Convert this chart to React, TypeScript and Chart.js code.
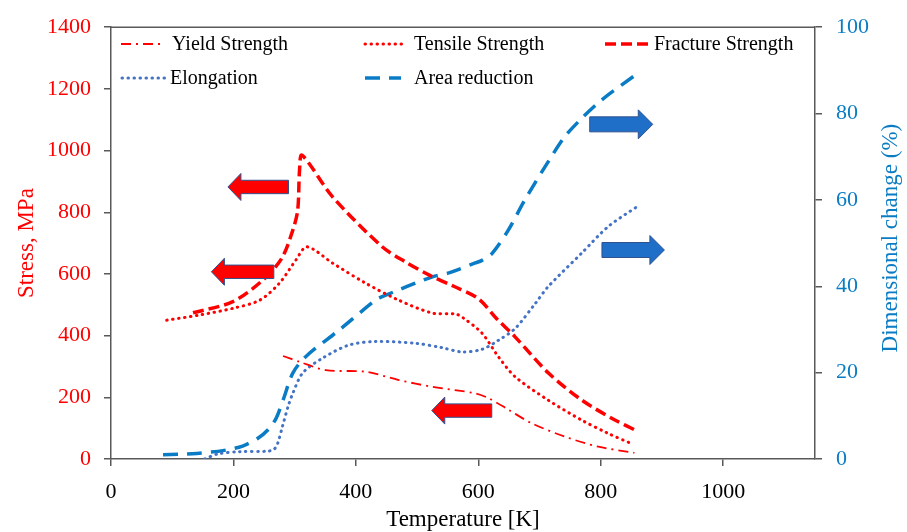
import React, { useEffect, useRef } from 'react';
import { Chart, registerables } from 'chart.js';

Chart.register(...registerables);

// ---- Data ----
const xTickValues = [0, 200, 400, 600, 800, 1000];

const yieldT = [281, 308, 351, 416, 470, 525, 595, 617, 650, 687, 742, 796, 855];
const yieldMPa = [334, 315, 288, 283, 256, 234, 213, 197, 159, 116, 72, 40, 20];

const tensileT = [91, 145, 200, 243, 275, 302, 320, 362, 416, 470, 525, 563, 575, 606, 633, 660, 714, 769, 810, 850];
const tensileMPa = [450, 467, 489, 515, 570, 645, 688, 635, 570, 515, 473, 470, 458, 408, 331, 267, 191, 126, 85, 50];

const fractureT = [134, 199, 248, 279, 297, 305, 308, 312, 362, 443, 480, 520, 560, 600, 630, 660, 715, 769, 820, 858];
const fractureMPa = [474, 510, 580, 651, 742, 807, 937, 985, 850, 688, 640, 596, 560, 520, 455, 396, 278, 191, 130, 92];

const elongT = [153, 175, 210, 255, 266, 272, 280, 290, 297, 313, 346, 389, 432, 497, 540, 573, 606, 633, 660, 693, 714, 769, 812, 861];
const elongPct = [0, 1.2, 1.7, 1.8, 2.2, 3.5, 7.5, 12.5, 15.2, 19.9, 23.4, 26.4, 27.2, 26.8, 25.8, 24.8, 25.4, 27.5, 30.2, 36.0, 39.9, 47.7, 53.8, 58.6];

const areaT = [85, 140, 185, 215, 240, 258, 270, 282, 297, 318, 373, 432, 443, 525, 552, 595, 606, 623, 649, 676, 714, 741, 769, 801, 861];
const areaPct = [1.0, 1.3, 2.0, 3.0, 4.8, 7.0, 9.5, 14.0, 19.9, 23.7, 29.9, 36.8, 37.6, 42.2, 43.1, 45.4, 46.0, 47.7, 53.0, 60.0, 68.8, 74.6, 78.9, 83.1, 89.4];

// Annotation arrows, in data units
const stressArrowTipT = [191, 164, 524];
const stressArrowTailT = [290, 266, 622];
const stressArrowMPa = [882, 607, 157];
const dimArrowTailT = [782, 802];
const dimArrowTipT = [885, 904];
const dimArrowPct = [77.5, 48.4];

const RED = '#FF0000';
const AXIS_BLUE = '#0A7CC4';
const ELONG_BLUE = '#4472C4';
const AREA_BLUE = '#0A7CC6';
const AXIS_GRAY = '#595959';
const FONT = '"Liberation Serif", "Times New Roman", serif';

const toXY = (xs: number[], ys: number[]) => xs.map((x, i) => ({ x, y: ys[i] }));

const seriesStyles = {
  yield: { color: RED, width: 1.8, dash: [10, 5, 2, 5], cap: 'butt' as CanvasLineCap },
  tensile: { color: RED, width: 3, dash: [0.5, 5.5], cap: 'round' as CanvasLineCap },
  fracture: { color: RED, width: 3.5, dash: [11, 5], cap: 'butt' as CanvasLineCap },
  elong: { color: ELONG_BLUE, width: 3, dash: [0.5, 5.5], cap: 'round' as CanvasLineCap },
  area: { color: AREA_BLUE, width: 3.5, dash: [15, 9], cap: 'butt' as CanvasLineCap },
};

const legendItems = [
  { label: 'Yield Strength', style: seriesStyles.yield, x0: 121, x1: 161, tx: 172, row: 0 },
  { label: 'Tensile Strength', style: seriesStyles.tensile, x0: 365, x1: 406, tx: 414, row: 0 },
  { label: 'Fracture Strength', style: seriesStyles.fracture, x0: 605, x1: 651, tx: 654, row: 0 },
  { label: 'Elongation', style: seriesStyles.elong, x0: 122, x1: 167, tx: 170, row: 1 },
  { label: 'Area reduction', style: seriesStyles.area, x0: 365, x1: 401, tx: 414, row: 1 },
];

const decorPlugin = {
  id: 'decor',
  afterDatasetsDraw(chart: any) {
    const { ctx, chartArea, scales } = chart;
    const xs = scales.x, ys = scales.y, y1 = scales.y1;
    ctx.save();
    // top border
    ctx.strokeStyle = AXIS_GRAY;
    ctx.lineWidth = 1.5;
    ctx.beginPath();
    ctx.moveTo(chartArea.left, chartArea.top);
    ctx.lineTo(chartArea.right, chartArea.top);
    ctx.stroke();

    const drawArrow = (tipX: number, tailX: number, y: number, hl: number, hh: number, sh: number, fill: string, stroke: string) => {
      const dir = tailX > tipX ? 1 : -1;
      const hb = tipX + dir * hl;
      ctx.beginPath();
      ctx.moveTo(tipX, y);
      ctx.lineTo(hb, y - hh);
      ctx.lineTo(hb, y - sh);
      ctx.lineTo(tailX, y - sh);
      ctx.lineTo(tailX, y + sh);
      ctx.lineTo(hb, y + sh);
      ctx.lineTo(hb, y + hh);
      ctx.closePath();
      ctx.fillStyle = fill;
      ctx.fill();
      ctx.strokeStyle = stroke;
      ctx.lineWidth = 1;
      ctx.setLineDash([]);
      ctx.stroke();
    };
    stressArrowTipT.forEach((t, i) => {
      drawArrow(xs.getPixelForValue(t), xs.getPixelForValue(stressArrowTailT[i]), ys.getPixelForValue(stressArrowMPa[i]), 13, 13.5, 6.7, '#FF0000', '#2F528F');
    });
    dimArrowTipT.forEach((t, i) => {
      drawArrow(xs.getPixelForValue(t), xs.getPixelForValue(dimArrowTailT[i]), y1.getPixelForValue(dimArrowPct[i]), 14.5, 14.5, 7.5, '#1F6FC8', '#2F528F');
    });

    // legend
    const rowY = [44, 78];
    ctx.font = `20px ${FONT}`;
    ctx.textBaseline = 'middle';
    ctx.textAlign = 'left';
    legendItems.forEach((it) => {
      const y = rowY[it.row];
      ctx.strokeStyle = it.style.color;
      ctx.lineWidth = it.style.width;
      ctx.lineCap = it.style.cap;
      ctx.setLineDash(it.style.dash);
      ctx.beginPath();
      ctx.moveTo(it.x0, y);
      ctx.lineTo(it.x1, y);
      ctx.stroke();
      ctx.setLineDash([]);
      ctx.fillStyle = '#000';
      ctx.fillText(it.label, it.tx, y + 1);
    });

    // right axis title (reads bottom to top)
    ctx.save();
    ctx.translate(891, (chartArea.top + chartArea.bottom) / 2 - 5);
    ctx.rotate(-Math.PI / 2);
    ctx.font = `23px ${FONT}`;
    ctx.fillStyle = AXIS_BLUE;
    ctx.textAlign = 'center';
    ctx.textBaseline = 'middle';
    ctx.fillText('Dimensional change (%)', 0, 0);
    ctx.restore();
    ctx.restore();
  },
};

function makeDataset(label: string, xs: number[], ys: number[], style: any, axis: string) {
  return {
    label,
    data: toXY(xs, ys),
    yAxisID: axis,
    borderColor: style.color,
    backgroundColor: style.color,
    borderWidth: style.width,
    borderDash: style.dash,
    borderCapStyle: style.cap,
    pointRadius: 0,
    pointHoverRadius: 0,
    fill: false,
    tension: 0.3,
  };
}

const plainTick = (v: any) => String(v);

export default function App() {
  const canvasRef = useRef<HTMLCanvasElement | null>(null);

  useEffect(() => {
    document.body.style.margin = '0';
    const canvas = canvasRef.current;
    if (!canvas) return;
    const gridCommon = {
      display: true,
      drawOnChartArea: false,
      drawTicks: true,
      tickLength: 7,
      color: AXIS_GRAY,
      lineWidth: 1.5,
    };
    const chart = new Chart(canvas, {
      type: 'line',
      data: {
        datasets: [
          makeDataset('Yield Strength', yieldT, yieldMPa, seriesStyles.yield, 'y'),
          makeDataset('Tensile Strength', tensileT, tensileMPa, seriesStyles.tensile, 'y'),
          makeDataset('Fracture Strength', fractureT, fractureMPa, seriesStyles.fracture, 'y'),
          makeDataset('Elongation', elongT, elongPct, seriesStyles.elong, 'y1'),
          makeDataset('Area reduction', areaT, areaPct, seriesStyles.area, 'y1'),
        ] as any,
      },
      options: {
        responsive: false,
        animation: false,
        devicePixelRatio: 1,
        events: [],
        layout: { padding: { top: 27, left: 0, right: 0, bottom: 0 } },
        plugins: {
          legend: { display: false },
          tooltip: { enabled: false },
        },
        scales: {
          x: {
            type: 'linear',
            min: 0,
            max: 1150,
            grid: gridCommon,
            border: { display: true, color: AXIS_GRAY, width: 1.5 },
            ticks: { stepSize: 200, color: '#000', font: { family: FONT, size: 22 }, padding: 13, maxRotation: 0, callback: plainTick },
            afterBuildTicks: (scale: any) => {
              scale.ticks = xTickValues.map((v) => ({ value: v }));
            },
            afterFit: (scale: any) => { scale.height = 73; },
            title: { display: true, text: 'Temperature [K]', color: '#000', font: { family: FONT, size: 23 }, padding: { top: 0, bottom: -2 } },
          },
          y: {
            type: 'linear',
            position: 'left',
            min: 0,
            max: 1400,
            grid: gridCommon,
            border: { display: true, color: AXIS_GRAY, width: 1.5 },
            ticks: { stepSize: 200, color: RED, font: { family: FONT, size: 22 }, padding: 13, callback: plainTick },
            afterFit: (scale: any) => { scale.width = 111; },
            title: { display: true, text: 'Stress, MPa', color: RED, font: { family: FONT, size: 23 }, padding: { top: 13, bottom: 0 } },
          },
          y1: {
            type: 'linear',
            position: 'right',
            min: 0,
            max: 100,
            grid: gridCommon,
            border: { display: true, color: AXIS_GRAY, width: 1.5 },
            ticks: { stepSize: 20, color: AXIS_BLUE, font: { family: FONT, size: 22 }, padding: 14, callback: plainTick },
            afterFit: (scale: any) => { scale.width = 92; },
          },
        },
      } as any,
      plugins: [decorPlugin],
    });
    return () => chart.destroy();
  }, []);

  return (
    <div style={{ width: 907, height: 532, background: '#fff' }}>
      <canvas ref={canvasRef} width={907} height={532} style={{ display: 'block' }} />
    </div>
  );
}
